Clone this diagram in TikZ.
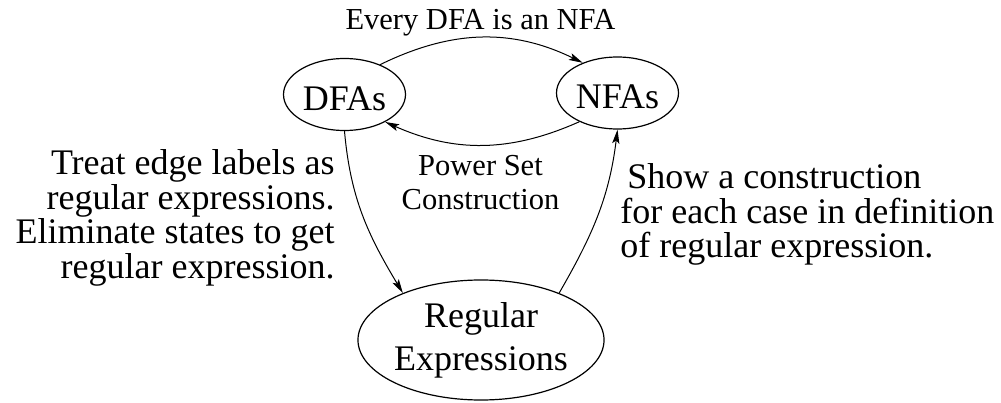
\documentclass[tikz,border=0pt]{standalone}
\usepackage{fontspec}
\setmainfont{Liberation Serif}
\usetikzlibrary{shapes.geometric,arrows.meta}
\begin{document}
\begin{tikzpicture}[x=0.5pt,y=0.5pt,
    automaton/.style={draw, ellipse, line width=0.6pt, inner sep=0pt,
      minimum width=61pt, minimum height=36pt, font=\fontsize{18}{21.5}\selectfont},
    lowtext/.style={text height=16pt, text depth=0pt},
    bigtext/.style={inner sep=0pt, font=\fontsize{18}{17.25}\selectfont},
    smalltext/.style={inner sep=0pt, font=\fontsize{15.25}{17}\selectfont},
    conv/.style={-{Stealth[length=7pt,width=3.6pt,inset=1.5pt]}, line width=0.5pt}]
  \useasboundingbox (0,0) rectangle (1001,402);

  \node[automaton, lowtext] (dfa) at (344.5,307.5) {DFAs};
  \node[automaton, lowtext] (nfa) at (617.5,309) {NFAs};
  \node[automaton, minimum width=122pt, minimum height=60pt, align=center] (regex) at (481,62) {Regular\\Expressions};

  \draw[conv] (dfa.40) to[out=26,in=154] (nfa.139);
  \draw[conv] (nfa.217) to[out=204,in=-24] (dfa.-34);
  \draw[conv] (dfa.south) to[out=-85,in=121] (regex.149);
  \draw[conv] (regex.31) to[out=60,in=-97] (nfa.south);

  \node[smalltext, anchor=base] (every) at (480.5,372) {Every DFA is an NFA};
  \node[smalltext, align=center, anchor=north] (powerset) at (480.5,247) {Power Set\\Construction};
  \node[bigtext, align=right, anchor=north east] (elim) at (335,252.6)
    {Treat edge labels as\\regular expressions.\\Eliminate states to get\\regular expression.};
  \node[bigtext, align=left, anchor=north west] (show) at (620,238.6)
    {\hspace*{3.5pt}Show a construction\\for each case in definition\\of regular expression.};
\end{tikzpicture}
\end{document}
